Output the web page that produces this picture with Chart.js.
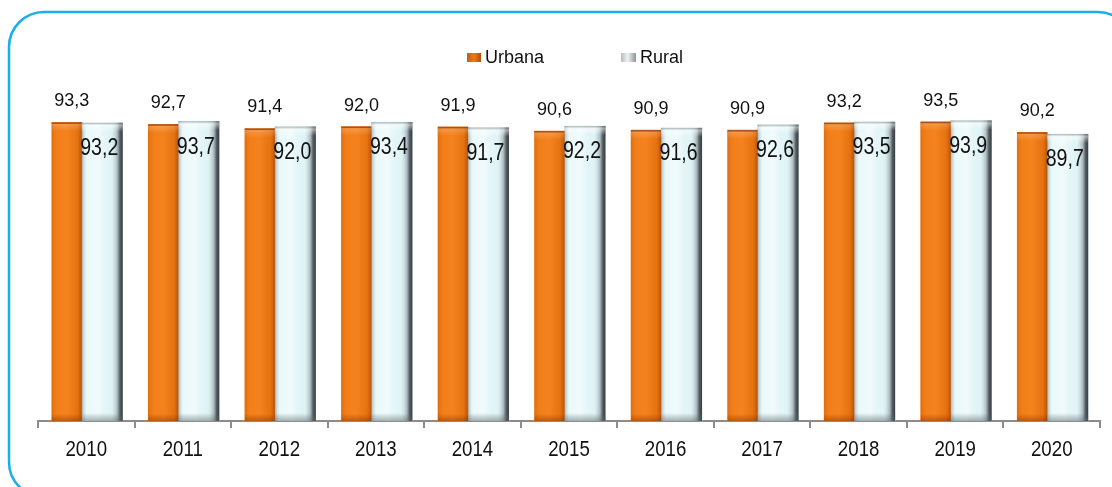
<!DOCTYPE html>
<html>
<head>
<meta charset="utf-8">
<script src="https://cdn.jsdelivr.net/npm/chart.js@4/dist/chart.umd.min.js"></script>
<style>
  html, body { margin: 0; padding: 0; background: #ffffff; }
  #wrap { width: 1112px; height: 487px; position: relative; }
</style>
</head>
<body>
<div id="wrap"><canvas id="c" width="1112" height="487"></canvas></div>
<script>
// ---- data ----
const years = ['2010','2011','2012','2013','2014','2015','2016','2017','2018','2019','2020'];
const urbana = [93.3, 92.7, 91.4, 92.0, 91.9, 90.6, 90.9, 90.9, 93.2, 93.5, 90.2];
const rural  = [93.2, 93.7, 92.0, 93.4, 91.7, 92.2, 91.6, 92.6, 93.5, 93.9, 89.7];
const seriesNames = ['Urbana', 'Rural'];

// ---- styles ----
const REGULAR = "'Liberation Sans', Arial, sans-serif";
const ORANGE = '#f27a12';
const RURALC = '#e3f7f9';
const BAR_SHIFT = 0.0466; // small left shift of the bar groups (category fraction)

const fmt = v => v.toFixed(1).replace('.', ',');

function narrowText(ctx, text, x, y, size, squeeze, baseline) {
  ctx.save();
  ctx.translate(x, y);
  ctx.scale(squeeze, 1);
  ctx.font = size + 'px ' + REGULAR;
  ctx.textAlign = 'center';
  ctx.textBaseline = baseline;
  ctx.fillText(text, 0, 0);
  ctx.restore();
}

const framePlugin = {
  id: 'frame',
  beforeDraw(chart) {
    const ctx = chart.ctx;
    ctx.save();
    ctx.strokeStyle = '#1aaeea';
    ctx.lineWidth = 2.5;
    const x = 9, y = 12, w = 1124, h = 485, r = 35;
    ctx.beginPath();
    ctx.moveTo(x + r, y);
    ctx.lineTo(x + w - r, y);
    ctx.arcTo(x + w, y, x + w, y + r, r);
    ctx.lineTo(x + w, y + h - r);
    ctx.arcTo(x + w, y + h, x + w - r, y + h, r);
    ctx.lineTo(x + r, y + h);
    ctx.arcTo(x, y + h, x, y + h - r, r);
    ctx.lineTo(x, y + r);
    ctx.arcTo(x, y, x + r, y, r);
    ctx.closePath();
    ctx.stroke();
    ctx.restore();
  }
};

function shadeOrange(ctx, L, R, top, bottom) {
  const w = R - L;
  let g = ctx.createLinearGradient(L, 0, R, 0);
  g.addColorStop(0, 'rgba(170,70,0,0.25)');
  g.addColorStop(0.2, 'rgba(255,170,90,0.10)');
  g.addColorStop(0.5, 'rgba(255,190,120,0.12)');
  g.addColorStop(0.85, 'rgba(150,60,0,0.12)');
  g.addColorStop(1, 'rgba(110,40,0,0.45)');
  ctx.fillStyle = g;
  ctx.fillRect(L, top, w, bottom - top);
  ctx.fillStyle = 'rgba(150,75,35,0.85)';
  ctx.fillRect(L, top, w, 1.5);
  g = ctx.createLinearGradient(0, top + 1.5, 0, top + 9);
  g.addColorStop(0, 'rgba(255,230,200,0.25)');
  g.addColorStop(1, 'rgba(255,230,200,0)');
  ctx.fillStyle = g;
  ctx.fillRect(L, top + 1.5, w, 7.5);
  g = ctx.createLinearGradient(0, bottom - 7, 0, bottom);
  g.addColorStop(0, 'rgba(120,45,0,0)');
  g.addColorStop(1, 'rgba(120,45,0,0.45)');
  ctx.fillStyle = g;
  ctx.fillRect(L, bottom - 7, w, 7);
}

function shadeRural(ctx, L, R, top, bottom) {
  const w = R - L;
  let g = ctx.createLinearGradient(L, 0, R, 0);
  g.addColorStop(0, 'rgba(120,132,138,0.55)');
  g.addColorStop(0.12, 'rgba(255,255,255,0.25)');
  g.addColorStop(0.4, 'rgba(255,255,255,0.45)');
  g.addColorStop(0.72, 'rgba(205,228,232,0.15)');
  g.addColorStop(0.86, 'rgba(110,120,125,0.45)');
  g.addColorStop(0.93, 'rgba(60,68,72,0.85)');
  g.addColorStop(1, 'rgba(45,50,55,0.95)');
  ctx.fillStyle = g;
  ctx.fillRect(L, top, w, bottom - top);
  g = ctx.createLinearGradient(0, top, 0, top + 9);
  g.addColorStop(0, 'rgba(120,130,135,0.6)');
  g.addColorStop(0.3, 'rgba(255,255,255,0.5)');
  g.addColorStop(1, 'rgba(255,255,255,0)');
  ctx.fillStyle = g;
  ctx.fillRect(L, top, w, 9);
  g = ctx.createLinearGradient(0, bottom - 8, 0, bottom);
  g.addColorStop(0, 'rgba(90,100,105,0)');
  g.addColorStop(1, 'rgba(90,100,105,0.5)');
  ctx.fillStyle = g;
  ctx.fillRect(L, bottom - 8, w, 8);
}

const barLookPlugin = {
  id: 'barLook',
  afterDatasetsDraw(chart) {
    const ctx = chart.ctx;
    ctx.save();
    chart.data.datasets.forEach((ds, di) => {
      const meta = chart.getDatasetMeta(di);
      meta.data.forEach((el) => {
        const p = el.getProps(['x', 'y', 'base', 'width'], true);
        const L = p.x - p.width / 2, R = p.x + p.width / 2;
        if (di === 0) shadeOrange(ctx, L, R, p.y, p.base);
        else shadeRural(ctx, L, R, p.y, p.base);
      });
    });
    ctx.fillStyle = '#111111';
    chart.data.datasets.forEach((ds, di) => {
      const meta = chart.getDatasetMeta(di);
      meta.data.forEach((el, i) => {
        const p = el.getProps(['x', 'y'], true);
        const v = ds.data[i];
        if (di === 0) {
          ctx.font = '18px ' + REGULAR;
          ctx.textAlign = 'center';
          ctx.textBaseline = 'middle';
          ctx.fillText(fmt(v), p.x + 5, p.y - 21);
        } else {
          narrowText(ctx, fmt(v), p.x - 3, p.y + 26, 23, 0.85, 'middle');
        }
      });
    });
    ctx.restore();
  }
};

const xLabelPlugin = {
  id: 'xLabels',
  afterDraw(chart) {
    const ctx = chart.ctx;
    const xs = chart.scales.x;
    ctx.save();
    ctx.fillStyle = '#111111';
    years.forEach((lab, i) => {
      narrowText(ctx, lab, xs.getPixelForTick(i), 455.5, 22, 0.85, 'alphabetic');
    });
    ctx.restore();
  }
};

const legendPlugin = {
  id: 'customLegend',
  afterDraw(chart) {
    const ctx = chart.ctx;
    ctx.save();
    const items = [
      { text: seriesNames[0], bx: 467, tx: 485, kind: 0 },
      { text: seriesNames[1], bx: 621, tx: 640, kind: 1 }
    ];
    const cy = 57.5;
    items.forEach(it => {
      const bw = it.kind === 0 ? 14 : 15, bh = 9;
      const L = it.bx, T = cy - bh / 2;
      const g = ctx.createLinearGradient(L, 0, L + bw, 0);
      if (it.kind === 0) {
        g.addColorStop(0, '#c85c0c');
        g.addColorStop(0.5, '#f07a14');
        g.addColorStop(1, '#b0500a');
      } else {
        g.addColorStop(0, '#b8bcbe');
        g.addColorStop(0.45, '#eef2f3');
        g.addColorStop(1, '#8e9496');
      }
      ctx.fillStyle = g;
      ctx.fillRect(L, T, bw, bh);
      ctx.fillStyle = '#111111';
      ctx.font = '18px ' + REGULAR;
      ctx.textAlign = 'left';
      ctx.textBaseline = 'middle';
      ctx.fillText(it.text, it.tx, cy + 1);
    });
    ctx.restore();
  }
};

new Chart(document.getElementById('c'), {
  type: 'bar',
  data: {
    labels: years,
    datasets: [
      { label: seriesNames[0], data: urbana, backgroundColor: ORANGE, borderWidth: 0,
        barThickness: 30, xAxisID: 'xb' },
      { label: seriesNames[1], data: rural, backgroundColor: RURALC, borderWidth: 0,
        barThickness: 41, xAxisID: 'xb' }
    ]
  },
  options: {
    responsive: false,
    animation: false,
    events: [],
    layout: { padding: { left: 38, right: 12, top: 101, bottom: 59 } },
    plugins: {
      legend: { display: false },
      tooltip: { enabled: false },
      title: { display: false }
    },
    scales: {
      x: {
        type: 'category',
        offset: true,
        grid: { offset: true, drawOnChartArea: false, drawTicks: true, tickLength: 7,
                color: '#8c8c8c', lineWidth: 2 },
        border: { display: true, color: '#8c8c8c', width: 2 },
        ticks: { display: false }
      },
      xb: {
        type: 'linear',
        display: false,
        offset: false,
        min: 2009.5 + BAR_SHIFT,
        max: 2020.5 + BAR_SHIFT
      },
      y: {
        display: false,
        min: 0,
        max: 100
      }
    }
  },
  plugins: [framePlugin, barLookPlugin, xLabelPlugin, legendPlugin]
});
</script>
</body>
</html>
